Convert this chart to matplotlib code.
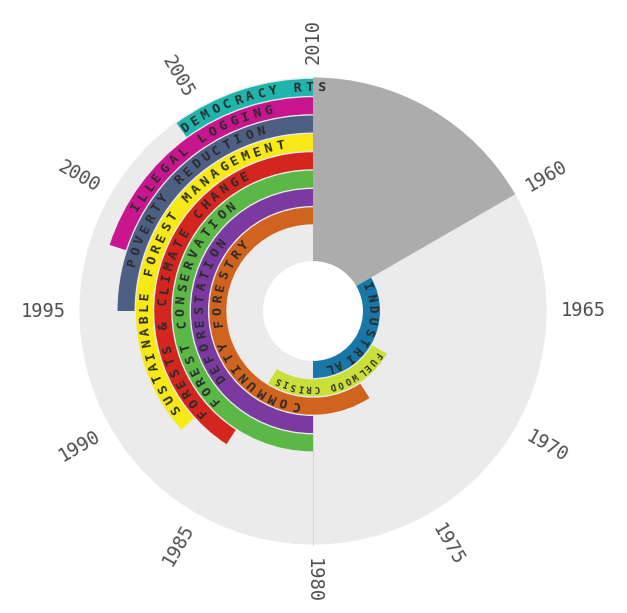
import numpy as np
import matplotlib
matplotlib.use('Agg')
import matplotlib.pyplot as plt

# Topics, inner ring first
topics = ['INDUSTRIAL', 'FUELWOOD CRISIS', 'COMMUNITY FORESTRY', 'DEFORESTATION',
          'FOREST CONSERVATION', 'FORESTS & CLIMATE CHANGE',
          'SUSTAINABLE FOREST MANAGEMENT', 'POVERTY REDUCTION',
          'ILLEGAL LOGGING', 'DEMOCRACY RTS']
start_year = [1960, 1970, 1974.5, 1980, 1980, 1985.5, 1988, 1995, 1998, 2004]
end_year = [1980, 1985.3, 2010, 2010, 2010, 2010, 2010, 2010, 2010, 2010]
label_year = [1961, 1970.7, 1981.8, 1989, 1988, 1988, 1989.1, 1997.5, 2000.1, 2004.2]
colors = ['#1877a6', '#c9df3a', '#d0641f', '#7a3aa0', '#5cb846', '#d3261f',
          '#f7e817', '#4e5f84', '#c8168e', '#1fb5ad']
tick_years = list(range(1960, 2011, 5))
no_data = (1950, 1960)

R_HOLE, STEP, BAND, R_OUT = 50, 18.35, 17.0, 233.5
RMAX = 280
W, H = 627, 613
cx, cy = 313, 302  # centre in pixels from left / bottom


def ang(year):
    return np.deg2rad((year - 1950) * 6.0)


fig = plt.figure(figsize=(W / 100, H / 100), dpi=100)
ax = fig.add_axes([(cx - RMAX) / W, (cy - RMAX) / H, 2 * RMAX / W, 2 * RMAX / H],
                  projection='polar')
ax.set_theta_zero_location('N')
ax.set_theta_direction(-1)
ax.set_ylim(0, RMAX)
ax.set_axis_off()

# background disc and empty decade
ax.bar(np.pi, R_OUT - R_HOLE, width=2 * np.pi, bottom=R_HOLE, color='#ebebeb',
       edgecolor='none', zorder=0)
ax.bar((ang(no_data[0]) + ang(no_data[1])) / 2, R_OUT - R_HOLE,
       width=ang(no_data[1]) - ang(no_data[0]), bottom=R_HOLE,
       color='#acacac', edgecolor='none', zorder=1)
ax.plot([ang(1980), ang(1980)], [R_HOLE, R_OUT], color='#d9d9d9', lw=0.8, zorder=1)

for i, (name, s, e, ls, c) in enumerate(zip(topics, start_year, end_year,
                                             label_year, colors)):
    r0 = R_HOLE + i * STEP
    ax.bar((ang(s) + ang(e)) / 2, BAND, width=ang(e) - ang(s), bottom=r0,
           color=c, edgecolor='none', zorder=2)
    rm = r0 + BAND / 2
    if name == 'FUELWOOD CRISIS':
        spacing, fs = 7.9, 6.5
    elif name == 'INDUSTRIAL':
        spacing, fs = 11.3, 9
    else:
        spacing, fs = 12.0, 9.5
    t = ang(ls)
    for ch in name:
        if ch != ' ':
            ax.text(t, rm, ch, rotation=-np.rad2deg(t), rotation_mode='anchor',
                    ha='center', va='center', fontsize=fs, fontweight='bold',
                    family='DejaVu Sans Mono', color='#2b2b2b', zorder=3)
        t += spacing / rm

# year labels
for y in tick_years:
    th = (y - 1950) * 6 % 360
    rot = 90 - th
    if rot < -90:
        rot += 180
    ax.text(np.deg2rad(th), 270, str(y), rotation=rot, rotation_mode='anchor',
            ha='center', va='center', fontsize=13.5, family='DejaVu Sans Mono',
            color='#505050')

fig.savefig('out.png', dpi=100)
